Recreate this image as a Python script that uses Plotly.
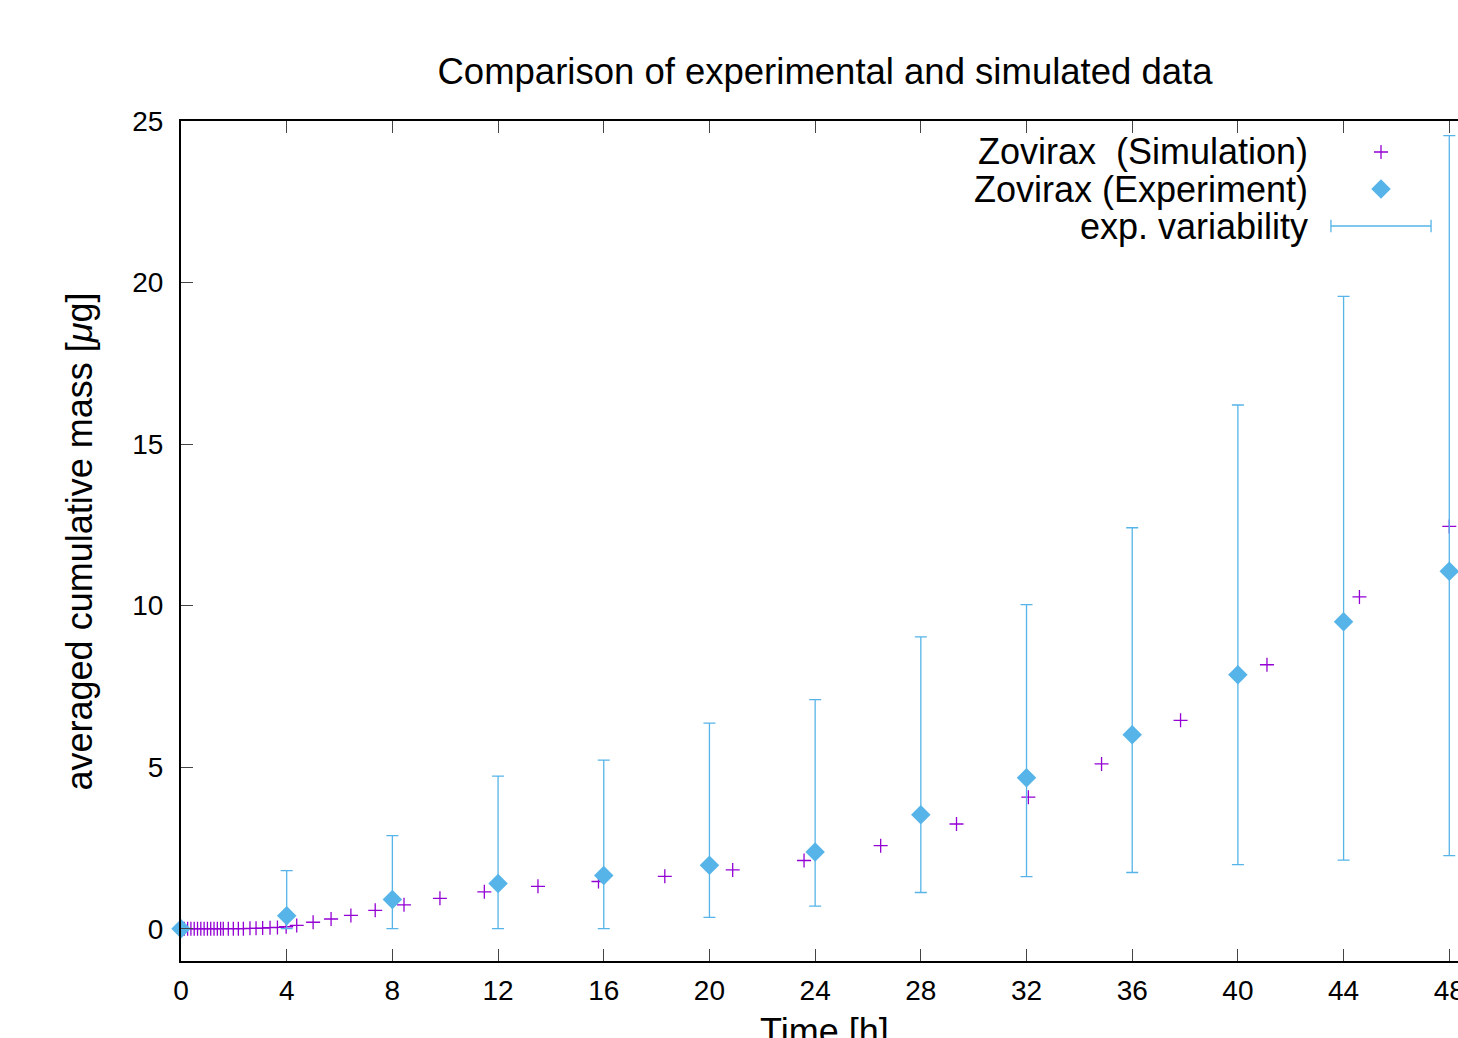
import plotly.graph_objects as go

# ---------------- data ----------------
sim_t = [0.0, 0.125, 0.25, 0.375, 0.5, 0.625, 0.75, 0.875, 1.0, 1.125, 1.25, 1.375, 1.5,
         1.6, 1.79, 1.98, 2.17, 2.36, 2.61, 2.84, 3.09, 3.37, 3.65, 3.98, 4.38, 5.0, 5.68,
         6.43, 7.35, 8.44, 9.8, 11.48, 13.51, 15.8, 18.31, 20.88, 23.58, 26.48, 29.35,
         32.07, 34.84, 37.83, 41.1, 44.6, 48.0]
sim_mass = [0.0, 0.0, 0.0, 0.0, 0.0, 0.0, 0.0, 0.0, 0.0, 0.0, 0.0, 0.0, 0.0,
            0.0, 0.0, 0.0, 0.0, 0.0, 0.01, 0.01, 0.02, 0.03, 0.04, 0.06, 0.10, 0.20, 0.30,
            0.41, 0.57, 0.74, 0.94, 1.14, 1.31, 1.46, 1.62, 1.82, 2.11, 2.57, 3.24,
            4.07, 5.10, 6.45, 8.17, 10.27, 12.45]

exp_t = [0, 4, 8, 12, 16, 20, 24, 28, 32, 36, 40, 44, 48]
exp_mass = [0.0, 0.40, 0.90, 1.40, 1.65, 1.96, 2.37, 3.53, 4.67, 6.00, 7.86, 9.50, 11.06]
exp_max = [0.0, 1.80, 2.88, 4.72, 5.22, 6.36, 7.09, 9.03, 10.03, 12.41, 16.21, 19.57, 24.55]
exp_min = [0.0, 0.0, 0.0, 0.0, 0.0, 0.35, 0.70, 1.12, 1.61, 1.74, 1.98, 2.12, 2.26]

x_ticks = [0, 4, 8, 12, 16, 20, 24, 28, 32, 36, 40, 44, 48]
y_ticks = [0, 5, 10, 15, 20, 25]

legend_labels = ["Zovirax  (Simulation)", "Zovirax (Experiment)", "exp. variability"]

title_text = "Comparison of experimental and simulated data"
x_title = "Time [h]"
y_title = "averaged cumulative mass [<i>μ</i>g]"

# ---------------- styles ----------------
FONT = "Liberation Sans, Arial, Helvetica, sans-serif"
SIM_COLOR = "#9400D3"
EXP_COLOR = "#56B4E9"
W, H = 1458, 1038
ML, MR, MT, MB = 181, 0, 121, 77

err_plus = [hi - m for hi, m in zip(exp_max, exp_mass)]
err_minus = [m - lo for lo, m in zip(exp_min, exp_mass)]

fig = go.Figure()

fig.add_trace(go.Scatter(
    x=sim_t, y=sim_mass, mode="markers", name=legend_labels[0],
    marker=dict(symbol="cross-thin", size=10, color=SIM_COLOR,
                line=dict(color=SIM_COLOR, width=1.3)),
    showlegend=False, cliponaxis=False))

fig.add_trace(go.Scatter(
    x=exp_t, y=exp_mass, mode="markers", name=legend_labels[1],
    marker=dict(symbol="diamond", size=15, color=EXP_COLOR, line=dict(width=0)),
    error_y=dict(type="data", symmetric=False, array=err_plus, arrayminus=err_minus,
                 color=EXP_COLOR, thickness=1.3, width=6),
    showlegend=False, cliponaxis=False))

# ----- manual legend (text left of key, as in the original) -----
leg_text_x = 0.8842
leg_key_x = 0.9397
leg_rows = [0.9631, 0.9190, 0.8750]
leg_bar = [0.9005, 0.9789]

fig.add_trace(go.Scatter(
    x=[leg_key_x], y=[leg_rows[0]], xaxis="x2", yaxis="y2", mode="markers",
    marker=dict(symbol="cross-thin", size=10, color=SIM_COLOR,
                line=dict(color=SIM_COLOR, width=1.3)),
    showlegend=False, hoverinfo="skip", cliponaxis=False))
fig.add_trace(go.Scatter(
    x=[leg_key_x], y=[leg_rows[1]], xaxis="x2", yaxis="y2", mode="markers",
    marker=dict(symbol="diamond", size=15, color=EXP_COLOR),
    showlegend=False, hoverinfo="skip", cliponaxis=False))
fig.add_trace(go.Scatter(
    x=[leg_bar[0], leg_bar[1]], y=[leg_rows[2], leg_rows[2]], xaxis="x2", yaxis="y2",
    mode="lines", line=dict(color=EXP_COLOR, width=1.3),
    showlegend=False, hoverinfo="skip", cliponaxis=False))
for bx in leg_bar:
    fig.add_trace(go.Scatter(
        x=[bx, bx], y=[leg_rows[2] - 0.0075, leg_rows[2] + 0.0075], xaxis="x2", yaxis="y2",
        mode="lines", line=dict(color=EXP_COLOR, width=1.3),
        showlegend=False, hoverinfo="skip", cliponaxis=False))

annotations = []
for lbl, yy in zip(legend_labels, leg_rows):
    annotations.append(dict(text=lbl, xref="paper", yref="paper", x=leg_text_x, y=yy,
                            xanchor="right", yanchor="middle", showarrow=False,
                            font=dict(family=FONT, size=36, color="black")))

# axis titles as annotations (x title is partly cut by the bottom edge)
annotations.append(dict(text=x_title, xref="paper", yref="paper", x=0.5043, y=-0.0845,
                        xanchor="center", yanchor="middle", showarrow=False,
                        font=dict(family=FONT, size=36, color="black")))
annotations.append(dict(text=y_title, xref="paper", yref="paper", x=-0.0795, y=0.5,
                        xanchor="center", yanchor="middle", showarrow=False, textangle=-90,
                        font=dict(family=FONT, size=36, color="black")))

fig.update_layout(
    width=W, height=H,
    margin=dict(l=ML, r=MR, t=MT, b=MB, pad=0, autoexpand=False),
    paper_bgcolor="white", plot_bgcolor="white",
    font=dict(family=FONT, size=28, color="black"),
    title=dict(text=title_text, x=825 / W, xanchor="center", xref="container",
               y=1 - 71 / H, yanchor="middle", yref="container",
               font=dict(family=FONT, size=36.5, color="black")),
    showlegend=False,
    annotations=annotations,
    xaxis=dict(range=[0, 48.33], tickmode="array", tickvals=x_ticks,
               ticktext=[str(v) for v in x_ticks], automargin=False,
               showgrid=False, zeroline=False,
               showline=True, linecolor="black", linewidth=2, mirror="ticks",
               ticks="inside", ticklen=12, tickwidth=1, tickcolor="#444",
               ticklabeloverflow="allow", ticklabelstandoff=3,
               tickfont=dict(family=FONT, size=28, color="black")),
    yaxis=dict(range=[-1, 25], tickmode="array", tickvals=y_ticks,
               ticktext=[str(v) for v in y_ticks], automargin=False,
               showgrid=False, zeroline=False,
               showline=True, linecolor="black", linewidth=2, mirror=False,
               ticks="inside", ticklen=12, tickwidth=1, tickcolor="#444",
               ticklabelstandoff=10,
               tickfont=dict(family=FONT, size=28, color="black")),
    xaxis2=dict(range=[0, 1], overlaying="x", visible=False, fixedrange=True,
                automargin=False),
    yaxis2=dict(range=[0, 1], overlaying="y", visible=False, fixedrange=True,
                automargin=False),
)

fig.write_html("out.html", config={"displayModeBar": False})
